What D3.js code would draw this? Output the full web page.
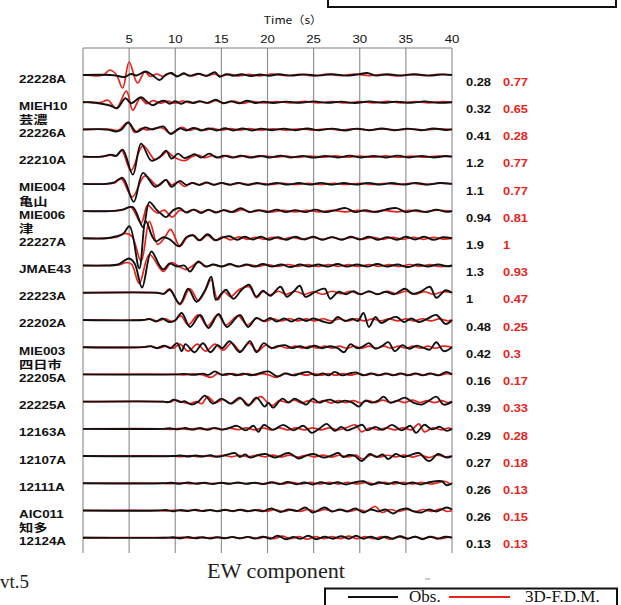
<!DOCTYPE html>
<html lang="ja">
<head>
<meta charset="UTF-8">
<title>EW component</title>
<script src="https://cdn.jsdelivr.net/npm/d3@7"></script>
<style>
  body { margin: 0; background: #fff; }
  svg { display: block; }
  .lab { font-family: "Liberation Sans", Arial, sans-serif; font-weight: bold; font-size: 11.5px; }
  .ja { font-family: "Noto Sans CJK JP", sans-serif; font-weight: bold; font-size: 11px; }
  .serif { font-family: "Liberation Serif", "Times New Roman", serif; }
</style>
</head>
<body>
<script>
// stations, top to bottom
var stations = ["22228A","MIEH10","22226A","22210A","MIE004","MIE006","22227A","JMAE43","22223A",
                "22202A","MIE003","22205A","22225A","12163A","12107A","12111A","AIC011","12124A"];
var stationsJa = ["","芸濃","","","亀山","津","","","","","四日市","","","","","","知多",""];
// max amplitudes written at the right
var obsMax = [0.28,0.32,0.41,1.2,1.1,0.94,1.9,1.3,1,0.48,0.42,0.16,0.39,0.29,0.27,0.26,0.26,0.13];
var fdmMax = [0.77,0.65,0.28,0.77,0.77,0.81,1,0.93,0.47,0.25,0.3,0.17,0.33,0.28,0.18,0.13,0.15,0.13];
var timeTicks = [5,10,15,20,25,30,35,40];

// waveforms, [time s, relative amplitude]
var obsWaves = [
  [[0,0],[3.0,0],[3.8,-1],[4.5,-2],[5.2,1],[5.8,-0.5],[6.8,3.5],[7.5,0],[8.3,-5],[9.0,0.5],[9.6,2],[10.2,-1.5],[10.9,1.7],[11.5,-0.8],[12.5,1.3],[13.4,-0.8],[14.3,2.7],[14.8,-1.7],[15.5,0.8],[16.3,-0.8],[17.2,0.8],[18.2,-1],[19.2,0.5],[20.2,-0.8],[21.2,0.8],[22.5,-0.6],[24,0.6],[25.5,-0.6],[27,0.8],[28.5,-0.6],[29.8,0.6],[30.8,2],[31.8,-0.6],[33,0.8],[34.5,-0.6],[36,0.8],[37.5,-0.6],[39,0.6],[40,0]],
  [[0,0],[0.8,0],[2.0,-1.5],[3.0,-3.5],[3.7,-6],[4.6,4],[5.2,-1],[6.3,5],[7.0,0],[7.6,-3],[8.2,0],[8.8,1.5],[9.4,-1.5],[10.0,1],[10.6,-1.5],[11.3,0.8],[12.0,-0.8],[12.7,0.8],[13.5,-0.6],[14.4,2.5],[15.2,-1],[16.0,0.8],[17.0,-1],[17.8,1.5],[18.7,-0.8],[19.6,0.6],[20.6,-0.8],[22,0.6],[23.5,-0.6],[25,0.8],[26.5,-0.6],[28,0.6],[29.5,-0.8],[31,0.8],[32.5,-0.6],[34,0.6],[35.5,-0.6],[37,0.8],[38.5,-0.6],[40,0]],
  [[0,0],[2.6,0],[3.6,-2],[4.2,0],[4.9,7],[5.8,-2.5],[6.7,2],[7.5,0],[8.7,3],[9.5,-4.5],[10.5,1],[11.2,-1],[12.0,1.5],[12.8,-1],[13.6,1],[14.5,-1],[15.4,1.2],[16.3,-1],[17.3,1],[18.3,-1],[19.3,0.8],[20.5,-0.8],[21.8,0.8],[23,-0.8],[24.3,1],[25.6,-0.8],[27,0.8],[28.4,-1],[29.7,0.8],[31,-0.8],[32.4,1],[33.8,-0.8],[35.2,0.8],[36.6,-0.8],[38,1],[39.3,-0.6],[40,0]],
  [[0,0],[2.0,0],[3.0,2],[3.6,1],[4.3,7],[5.4,-18],[6.3,13],[7.4,-4],[8.3,-0.5],[9.0,6],[9.6,-2],[10.3,3],[11.0,-1.5],[11.6,0.5],[12.1,2.5],[12.8,-1],[13.7,3],[14.5,-1],[15.3,1],[16.2,-1],[17.1,1],[18.1,-1],[19.1,0.8],[20.2,-0.8],[21.4,1],[22.6,-0.8],[23.8,0.8],[25,-1],[26.3,0.8],[27.6,-0.8],[28.9,1],[30.2,-0.8],[31.5,0.8],[32.8,-0.8],[34.1,1],[35.4,-0.8],[36.7,0.8],[38,-0.8],[39.3,0.6],[40,0]],
  [[0,0],[2.5,0],[3.4,1.5],[4.3,6],[5.5,-18],[6.5,11],[7.8,-3],[8.4,0],[9.0,4],[9.6,-3],[10.5,3],[11.2,-1],[11.9,1],[12.6,-1],[13.4,1.5],[14.2,-1],[15.0,1],[15.9,-0.8],[16.8,1],[17.8,-1],[18.8,0.8],[19.9,-0.8],[21,1],[22.2,-0.8],[23.4,0.8],[24.6,-0.8],[25.8,1],[27,-0.8],[28.3,0.8],[29.6,-0.8],[30.9,1],[32.2,-0.8],[33.5,0.8],[34.8,-0.8],[36.1,1],[37.4,-0.8],[38.7,0.8],[40,0]],
  [[0,0],[3,0],[4.3,1.5],[5.4,4],[6.5,-16],[7.2,9],[8.0,1],[8.5,-3],[9.0,-6],[9.8,1],[10.5,3],[11.2,-1.5],[12.0,1.5],[12.8,-2],[13.6,1.5],[14.4,-1.5],[15.2,1],[16.1,-1],[17.1,3],[18.0,-1],[19,1],[20,-1],[21,1.5],[22,-1],[23,1],[24.1,-1],[25.2,1.5],[26.3,-1],[27.4,1],[28.5,3],[29.5,-1],[30.6,1],[31.7,-1],[32.8,1.5],[34,3],[35,-1],[36.1,1],[37.2,-1],[38.3,1.5],[39.4,-0.8],[40,0]],
  [[0,0],[2.5,0],[3.6,2],[4.3,4],[5.05,12],[6.1,-30],[6.8,17],[7.5,2],[7.9,-3],[8.7,1],[9.4,-1],[10.4,-8],[11.2,1],[11.9,3],[12.6,-2],[13.5,4],[14.4,-2],[15.2,1],[15.9,2],[16.7,-1.5],[17.5,1.5],[18.4,-1.2],[19.3,1.5],[20.2,-1.5],[21.1,1.2],[22,-1.5],[23,1.5],[24,-1.2],[25,1.5],[26,-1.5],[27,1.2],[28,-1.5],[29,1.5],[30,-1.2],[31,1.5],[32,-1.5],[33,1.2],[34,-1.5],[35,1.5],[36,-1.2],[37,1.5],[38,-1.5],[39,1],[40,0]],
  [[0,0],[2.5,0],[3.8,1],[5.0,7],[5.6,2],[6.4,-22],[7.4,14],[8.3,0],[8.7,-4],[9.4,2],[10.2,-1],[11.0,0],[11.6,-6],[12.5,4],[13.3,-1],[14.1,1],[15,-1],[15.9,1.5],[16.8,-1],[17.7,1],[18.6,-1],[19.5,1.5],[20.5,-1],[21.5,1],[22.5,-1.5],[23.5,1],[24.5,-1],[25.5,1],[26.5,-1],[27.6,1.5],[28.6,-1],[29.7,1],[30.8,-1],[31.9,1.5],[33,-1],[34.1,1],[35.2,-1.5],[36.3,1],[37.4,-1],[38.5,1],[39.5,-0.8],[40,0]],
  [[0,0],[8.0,0],[8.8,-1],[9.4,3],[10.5,-11],[11.4,4],[12.3,-9],[13.2,2],[13.9,16],[14.4,-7],[15.0,-1],[15.5,3],[16.3,-6],[17.2,3],[18.0,8],[18.8,-4],[19.5,2],[20.3,-3],[21.4,6],[22.1,-4],[22.8,1],[23.5,7],[24.1,-4],[25.2,1],[26.2,4],[26.8,-6],[27.7,1],[28.5,-1.5],[29.3,1.5],[30.1,-1.5],[31,1.5],[31.9,-1.5],[32.8,1],[33.7,-1.5],[34.9,4],[35.7,-1],[36.6,1],[37.6,6],[38.3,-5],[39.3,2.5],[40,0]],
  [[0,0],[6.5,0],[7.2,1],[7.9,-1.5],[8.6,1.5],[9.3,-2],[10.0,-0.5],[10.7,7],[11.6,-7],[12.7,5],[13.6,-8],[14.7,6],[15.6,-7],[17.0,5],[17.9,-7],[18.8,2],[19.6,-1],[20.3,2],[21.0,-1.5],[21.8,1.5],[22.6,-1.5],[23.4,1.5],[24.2,-1],[25.0,1.5],[26.0,-1.5],[26.9,-3],[27.6,3],[28.4,-1],[29.2,1],[29.8,-1],[30.4,7],[31.0,-7],[31.7,3],[32.3,-3],[33.2,1],[34.0,3],[34.8,-2],[35.6,1.5],[36.4,-2],[37.3,1],[38.3,5],[39.3,-4],[40,0]],
  [[0,0],[6.5,0],[7.3,1],[8.0,-1],[8.8,1.5],[9.5,-1],[10.2,4],[10.7,-4],[11.1,3],[12.1,-5],[13.0,4],[13.8,-5],[14.6,2],[15.1,-1],[15.9,6],[17.0,-5],[18.1,6],[18.8,-5],[19.6,4],[20.4,-1],[21.1,1],[21.9,2],[22.7,-1],[23.5,1],[24.3,-1],[25.1,1.5],[25.9,-1],[26.8,1],[27.6,-1],[28.3,-5],[29.0,3],[29.7,-1],[30.4,1],[31.0,4],[31.7,-1.5],[32.4,1],[33.1,5],[33.8,-4],[34.6,2],[35.4,-1.5],[36.2,1.5],[37.0,-1],[37.6,-2.5],[38.3,5],[39.1,-4],[40,0]],
  [[0,0],[10,0],[11,0.5],[12,-0.5],[13,0.8],[13.6,-0.5],[14.3,3],[15,-0.5],[15.8,0.8],[16.6,-0.8],[17.4,0.8],[18.2,-0.8],[19.1,1],[20.1,3],[21.1,-2],[22,1],[22.8,-1],[23.6,1],[24.4,2.5],[25.2,-1],[26,1],[26.6,-1],[27.3,2.5],[28.1,-1],[28.9,1],[29.6,2],[30.4,-1],[31.2,1],[32,-1],[32.8,1],[33.6,-1],[34.4,1],[35.2,-1],[36,1],[36.8,-1],[37.6,1],[38.5,-1],[39.4,2.5],[40,0]],
  [[0,0],[8.7,0],[9.3,-0.5],[9.8,2],[10.6,-0.5],[11.0,0.5],[11.8,-3],[12.5,0],[13.2,6],[14.1,-2],[15.0,3],[16.0,-2],[17.0,4],[17.9,-4],[18.8,4],[19.7,-5],[20.1,-1],[20.6,-6],[21.6,3],[22.3,-1],[22.9,3],[23.6,0],[24.2,-3],[24.9,3],[25.6,-1],[26.2,1],[26.8,2],[27.6,-1],[28.4,1],[29.2,-1],[29.9,-5],[30.6,1],[31.3,-1],[32.0,1],[32.6,5],[33.3,-1],[34.1,1],[34.9,4],[35.8,-1],[36.7,-3],[37.5,1],[38.3,5],[39.1,-3],[40,0]],
  [[0,0],[8.7,0],[9.5,0.5],[10.3,-0.5],[11.1,0.8],[11.9,-0.8],[12.7,0.8],[13.5,-1],[14.3,1],[15.1,-0.8],[15.9,1],[16.7,3],[17.6,-1.5],[18.5,3],[19.0,-3],[19.6,4],[20.6,-1],[21.7,4],[22.8,-1.5],[23.9,3],[24.8,-4],[25.6,0],[26.4,5],[27.3,-2],[28,2],[28.6,-1.5],[29.4,1],[30.3,4],[30.8,-1.5],[31.7,2],[32.5,-1],[33.5,4],[34.5,-1.5],[35.5,3],[36.1,-4],[37.0,4],[37.8,-0.5],[38.7,2],[39.4,-2],[40,0]],
  [[0,0],[9.8,0],[10.6,0.5],[11.4,-0.5],[12.2,0.5],[13,-0.5],[13.8,0.8],[14.6,-0.8],[15.5,1],[16.5,3],[17,-1],[17.6,1.5],[18.1,-1.5],[19.0,1],[19.8,2],[20.8,-1.5],[22.3,3],[23.4,-2.5],[24.2,0.5],[25.0,2],[26.1,-1.5],[26.9,0.5],[27.7,3],[28.2,-1],[28.8,1],[29.5,0],[30.2,-5],[31.1,2],[31.8,-1],[32.5,1.5],[33.1,-3],[33.9,2],[34.7,-1],[35.5,1],[36.4,3],[37.5,-5],[38.5,2],[39.4,-1.5],[40,0]],
  [[0,0],[8.7,0],[9.6,0.5],[10.5,-0.5],[11.4,0.8],[12.3,-0.5],[13.2,0.5],[14.1,-0.8],[15,0.5],[15.9,-0.5],[16.8,0.8],[17.7,-0.5],[18.6,0.5],[19.5,-0.8],[20.4,1],[21.3,-0.8],[22.2,1.2],[23.1,-1],[24,0.8],[24.9,-1.2],[25.8,1],[26.7,-0.8],[27.6,1],[28.5,-1.2],[29.4,0.8],[30.4,2],[31.2,-1.5],[32.1,1],[33,-0.8],[33.9,1.2],[34.8,-1],[35.7,0.8],[36.6,-1.2],[37.5,1],[38.9,2],[39.4,-2],[40,0]],
  [[0,0],[8.2,0],[9.0,0.5],[9.8,-0.8],[10.6,0.5],[11.4,-0.5],[12.2,0.8],[13,-0.5],[13.8,0.5],[14.6,-0.8],[15.4,0.8],[16.2,-0.5],[17,0.8],[17.8,-0.8],[18.6,0.5],[19.5,-0.8],[20.4,2],[21.4,-1.5],[22.3,1],[23.2,-0.5],[24.1,3],[24.9,-2],[26.2,3],[27,-1],[27.8,1],[28.6,-1],[29.5,2],[30.4,-2],[31.2,1],[32,-1],[32.8,1],[33.6,-3],[34.3,0.5],[35.1,2],[35.9,-1],[36.7,-2],[37.5,1],[38.3,-1],[39.4,3],[40,1]],
  [[0,0],[9,0],[9.8,0.5],[10.6,-0.5],[11.4,0.8],[12.2,-0.5],[13,0.5],[13.8,-0.8],[14.6,0.5],[15.4,-0.5],[16.2,0.8],[17,-0.5],[17.8,0.8],[18.6,-0.8],[19.5,1],[20.3,-1],[21.1,2],[22,-1.5],[22.8,0.8],[23.6,-1],[24.4,2],[25.3,-1.5],[26.2,1],[27.1,-1],[28,1.5],[28.8,-1],[29.6,2],[30.4,-1],[31.2,1],[32,-1.5],[32.8,1],[33.6,-1],[34.4,1.5],[35.2,-1],[36,1],[36.8,-1.5],[37.6,1],[38.4,-1],[39.3,1],[40,0]]
];

var fdmWaves = [
  [[0,0],[2.2,0],[2.9,5],[3.6,0.5],[4.3,-13],[5.0,13],[5.9,-8],[6.7,3],[7.3,-1.5],[8.0,1],[8.7,-1.5],[9.4,1.5],[10.2,-1],[11.0,1],[11.8,-1],[12.6,1.2],[13.4,-1],[14.2,1],[15.0,-1.2],[15.8,0.8],[16.8,-0.8],[18,0.6],[19.2,-0.8],[20.5,0.8],[22,-0.6],[23.5,0.6],[25,-0.8],[26.5,0.8],[28,-0.6],[29.5,0.8],[31,-0.6],[32.5,0.6],[34,-0.8],[35.5,0.6],[37,-0.6],[38.5,0.6],[40,0]],
  [[0,0],[2.0,0],[2.7,2],[3.6,-6],[4.7,11],[5.4,-8],[6.2,4],[6.9,-1.5],[7.6,1.5],[8.4,-1],[9.2,1],[10,-1],[10.8,1.2],[11.7,-0.8],[12.6,1],[13.5,-1],[14.4,1.5],[15.3,-0.8],[16.3,1],[17.3,-1.2],[18.3,0.8],[19.5,-0.8],[21,0.6],[22.5,-0.6],[24,0.8],[25.5,-0.6],[27,0.6],[28.5,-0.8],[30,0.6],[31.5,-0.6],[33,0.8],[34.5,-0.6],[36,0.6],[37.5,-0.6],[39,0.6],[40,0]],
  [[0,0],[3.0,0],[3.8,-1],[4.9,7],[5.6,-3],[6.3,1],[7.0,-0.5],[7.8,1],[8.6,1.5],[9.5,-4],[10.3,0.5],[10.8,2],[11.5,-1],[12.3,1],[13.1,-1],[14,1],[15,-0.8],[16,0.8],[17,-0.8],[18,0.8],[19.3,-0.6],[20.6,0.6],[22,-0.6],[23.5,0.6],[25,-0.6],[26.5,0.6],[28,-0.6],[29.5,0.6],[31,-0.6],[32.5,0.6],[34,-0.6],[35.5,0.6],[37,-0.6],[38.5,0.6],[40,0]],
  [[0,0],[2.0,0],[3.0,1.5],[3.6,0.5],[4.2,6],[5.2,-14],[6.5,11],[7.8,-3],[8.5,0.5],[9.1,5],[9.8,0],[11.0,-4],[11.8,0],[12.5,1.5],[13.2,-1],[14,1],[14.8,-1],[15.6,1],[16.5,-0.8],[17.5,0.8],[18.5,-0.8],[19.6,0.8],[20.8,-0.6],[22,0.6],[23.3,-0.8],[24.6,0.6],[26,-0.6],[27.3,0.8],[28.6,-0.6],[30,0.6],[31.4,-0.6],[32.8,0.8],[34.2,-0.6],[35.6,0.6],[37,-0.6],[38.4,0.6],[40,0]],
  [[0,0],[2.5,0],[3.4,1],[4.15,5],[5.35,-13],[6.7,8],[8.1,-2],[9.0,4],[9.6,-1],[10.3,2],[11.0,-2.5],[11.8,1],[12.6,-1],[13.4,1],[14.2,-0.8],[15,0.8],[16,-0.8],[17,0.8],[18,-0.8],[19.2,0.6],[20.4,-0.6],[21.6,0.6],[23,-0.6],[24.4,0.6],[25.8,-0.6],[27.2,0.6],[28.6,-0.6],[30,0.6],[31.4,-0.6],[32.8,0.6],[34.2,-0.6],[35.6,0.6],[37,-0.6],[38.4,0.6],[40,0]],
  [[0,0],[3,0],[4.2,1],[5.2,4],[6.3,-12],[7.0,6],[7.6,1],[8.1,-2],[8.8,1],[9.7,-6],[10.5,1],[11.2,-1],[12,1.5],[12.8,-1],[13.6,1],[14.5,-1],[15.4,1],[16.3,-1],[17.2,1.5],[18.2,-0.8],[19.3,0.8],[20.5,-0.8],[21.7,0.8],[23,-0.8],[24.3,0.8],[25.6,-0.8],[27,0.8],[28.4,-0.8],[29.8,0.8],[31.2,-0.8],[32.6,0.8],[34,-0.8],[35.4,0.8],[36.8,-0.8],[38.2,0.8],[40,0]],
  [[0,0],[2.5,0],[3.6,1],[4.5,5],[5.3,2],[6.3,-23],[7.2,17],[8.1,-6],[8.8,0],[9.5,9],[10.5,-8],[11.3,1],[12.0,3],[12.7,-2],[13.5,3],[14.3,-2],[15.1,1.5],[16.0,-1.5],[16.9,1.5],[17.8,-1],[18.7,1],[19.6,-1],[20.6,1],[21.6,-1],[22.6,1],[23.7,-1],[24.8,1],[25.9,-1],[27,1],[28.1,-1],[29.2,1],[30.3,-1],[31.4,1],[32.5,-1],[33.6,1],[34.7,-1],[35.8,1],[36.9,-1],[38,1],[39.1,-0.8],[40,0]],
  [[0,0],[2.5,0],[3.8,0.5],[4.8,3],[5.3,1],[6.1,-18],[7.2,11],[8.7,-6],[9.6,3],[10.4,-1],[11.2,-4],[12.0,0.5],[12.6,3],[13.4,-1],[14.2,1],[15.1,-1],[16,1],[17,-1],[18,1],[19,-1],[20,1],[21.1,-1],[22.2,1],[23.3,-0.8],[24.4,0.8],[25.5,-1],[26.6,1],[27.7,-0.8],[28.8,0.8],[29.9,-1],[31,1],[32.1,-0.8],[33.2,0.8],[34.3,-1],[35.4,1],[36.5,-0.8],[37.6,0.8],[38.7,-1],[40,0]],
  [[0,0],[8.0,0],[8.7,-1],[9.4,4],[10.5,-12],[11.6,4],[12.5,-8],[13.2,1],[13.9,13],[14.6,-7],[15.3,1],[16.0,-4],[16.9,3],[18.0,6],[18.8,-5],[19.5,1],[20.3,-2],[21.2,1.5],[22.0,-1.5],[23,1.5],[24,-1.5],[25,1],[26,-1.5],[27,1.5],[28,-1],[29,1.5],[30,-1.5],[31,1],[32,-1.5],[33,1.5],[34,-1],[35,1.5],[36,-1.5],[37,1],[38,-1.5],[39,1],[40,0]],
  [[0,0],[6.5,0],[7.3,0.8],[8.1,-1],[8.9,1],[9.7,-1.5],[10.6,4],[11.4,-5],[12.5,5],[13.5,-6],[14.6,5],[15.5,-5],[16.8,4],[17.8,-5],[18.8,1.5],[19.7,-1.5],[20.6,1],[21.5,-1],[22.4,1.2],[23.3,-1],[24.2,1],[25.1,-1],[26,1.2],[26.9,-1],[27.8,1],[28.7,-1],[29.6,1.2],[30.5,-1],[31.4,1],[32.3,-1],[33.2,1.2],[34.1,-1],[35,1],[35.9,-1],[36.8,1.2],[37.7,-1],[38.6,1],[39.5,-0.8],[40,0]],
  [[0,0],[6.5,0],[7.4,0.8],[8.2,-1],[9.0,1],[9.8,-1],[10.5,3],[11.4,-4],[12.4,3],[13.3,-4],[14.3,3],[15.2,-3],[16.1,4],[17.1,-4],[18.0,4],[18.9,-4],[19.8,2],[20.6,-1],[21.4,1],[22.2,-1],[23,1],[23.8,-1],[24.6,1],[25.4,-1],[26.2,1],[27,-1],[27.8,1],[28.6,-1],[29.4,1],[30.2,-1],[31,1],[31.8,-1],[32.6,1],[33.4,-1],[34.2,1],[35,-1],[35.8,1],[36.6,-1],[37.4,1],[38.2,-1],[39,1],[40,0]],
  [[0,0],[10,0],[11,-0.5],[12,0.5],[13,-0.5],[13.9,-3],[14.6,1],[15.4,-0.8],[16.2,0.8],[17,-0.8],[17.8,0.8],[18.6,-0.8],[19.4,0.8],[20.2,-0.8],[21,-3],[21.8,1],[22.6,-0.8],[23.4,0.8],[24.2,-0.8],[25,0.8],[25.8,-0.8],[26.6,0.8],[27.4,-0.8],[28.2,0.8],[29,-0.8],[29.8,0.8],[30.6,-0.8],[31.4,0.8],[32.2,-0.8],[33,0.8],[33.8,-0.8],[34.6,0.8],[35.4,-0.8],[36.2,0.8],[37,-0.8],[37.8,0.8],[38.6,-0.8],[39.4,0.8],[40,0]],
  [[0,0],[8.7,0],[9.4,-0.5],[10,1.5],[10.8,-0.5],[11.6,-2],[12.3,0],[12.9,-2],[13.5,5],[14.3,-1],[15.2,2],[16.1,-2],[17.1,3],[18,-3],[18.8,3],[19.3,5],[20.0,-1],[20.5,-4],[21.3,1],[22.1,-1],[22.9,1.5],[23.7,-1.5],[24.5,1],[25.3,-1],[26.1,1],[26.9,-1.5],[27.7,1],[28.5,-1],[29.3,1],[30.1,-1.5],[30.9,1],[31.7,-1],[32.5,1.5],[33.3,-1],[34.1,1],[34.9,-1],[35.7,1.5],[36.5,-1],[37.3,1],[38.1,-1],[38.9,1],[39.6,-1],[40,0]],
  [[0,0],[8.7,0],[9.6,-0.5],[10.5,0.5],[11.4,-0.5],[12.3,0.5],[13.2,-0.5],[14.1,0.8],[15,-0.8],[15.9,0.8],[16.8,-0.8],[17.7,1],[18.6,-1],[19.5,1],[20.4,-1],[21.3,1],[22.2,-1],[23.1,1],[24,-1],[24.9,1],[25.8,-1],[26.7,1],[27.6,-1],[28.5,1],[29.5,4],[30.2,-3],[31.1,1],[32,-1],[32.9,1],[33.8,-1],[34.7,1],[35.6,-1],[36.4,5],[37.0,-3],[37.9,1],[38.8,-1],[39.6,0.8],[40,0]],
  [[0,0],[9.8,0],[10.7,-0.5],[11.6,0.5],[12.5,-0.5],[13.4,0.5],[14.3,-0.5],[15.2,0.8],[16.1,-0.8],[17,0.8],[17.9,-0.8],[18.8,0.8],[19.7,-0.8],[20.6,1],[21.5,-1],[22.4,1],[23.3,-1],[24.2,0.8],[25.1,-0.8],[26,1],[26.9,-1],[27.8,0.8],[28.7,-0.8],[29.6,1],[30.3,-3],[31.2,1],[32.1,-1],[33,0.8],[33.9,-0.8],[34.8,1],[35.7,-1],[36.6,0.8],[37.5,-1.5],[38.4,1],[39.3,-0.8],[40,0]],
  [[0,0],[8.7,0],[9.7,-0.5],[10.7,0.5],[11.7,-0.5],[12.7,0.5],[13.7,-0.5],[14.7,0.5],[15.7,-0.5],[16.7,0.5],[17.7,-0.5],[18.7,0.5],[19.7,-0.8],[20.7,0.8],[21.7,-0.8],[22.7,0.8],[23.7,-0.8],[24.7,0.8],[25.7,-0.8],[26.7,0.8],[27.7,-0.8],[28.7,0.8],[29.7,-0.8],[30.7,0.8],[31.7,-0.8],[32.7,0.8],[33.7,-0.8],[34.7,0.8],[35.7,-0.8],[36.7,0.8],[37.7,-0.8],[38.5,0.5],[39.2,2],[39.8,-0.5],[40,0]],
  [[0,0],[8.2,0],[9.1,-0.5],[10,0.5],[10.9,-0.5],[11.8,0.5],[12.7,-0.5],[13.6,0.5],[14.5,-0.5],[15.4,0.5],[16.3,-0.8],[17.2,0.8],[18.1,-0.8],[19,0.8],[19.9,-0.8],[20.8,1],[21.7,-1],[22.6,0.8],[23.5,-0.8],[24.4,1],[25.3,-1],[26.2,1],[27.1,-0.8],[28,0.8],[28.9,-1],[29.8,1],[30.7,-0.8],[31.7,4],[32.4,-2],[33.3,1],[34.2,-1],[35.1,1],[36,-1],[36.9,1],[37.8,-1],[38.7,1.5],[39.5,-1],[40,0]],
  [[0,0],[9,0],[9.9,-0.5],[10.8,0.5],[11.7,-0.5],[12.6,0.5],[13.5,-0.5],[14.4,0.5],[15.3,-0.5],[16.2,0.5],[17.1,-0.8],[18,0.8],[18.9,-0.8],[19.8,0.8],[20.7,-1],[21.6,1.5],[22.5,-1],[23.4,1],[24.3,-1.5],[25.2,1],[26.1,-1],[27,1],[27.9,-1],[28.8,1.5],[29.7,-1],[30.6,1],[31.5,-1],[32.4,1],[33.3,-1.5],[34.2,1],[35.1,-1],[36,1],[36.9,-1],[37.8,1],[38.7,-1],[39.6,0.5],[40,0]]
];

var W = 621, H = 605;

var svg = d3.select("body").append("svg")
  .attr("width", W)
  .attr("height", H);

svg.append("rect").attr("width", W).attr("height", H).attr("fill", "#fff");

// scales
var x = d3.scaleLinear().domain([0, 40]).range([83, 452]);
var row = d3.scaleLinear().domain([0, stations.length - 1]).range([75, 537.7]);
var amp = d3.scaleLinear().domain([-30, 30]).range([30, -30]);

// frame: top line and vertical grid
svg.append("line")
  .attr("x1", x(0)).attr("x2", x(40))
  .attr("y1", 48).attr("y2", 48)
  .attr("stroke", "#808080").attr("stroke-width", 1.2);

svg.selectAll("line.grid")
  .data([0].concat(timeTicks))
  .enter().append("line")
  .attr("class", "grid")
  .attr("x1", function(d) { return x(d); })
  .attr("x2", function(d) { return x(d); })
  .attr("y1", 48).attr("y2", 553)
  .attr("stroke", "#8a8a8a").attr("stroke-width", 1.1);

// tick labels
svg.selectAll("text.tick")
  .data(timeTicks)
  .enter().append("text")
  .attr("class", "lab")
  .attr("text-anchor", "middle")
  .attr("transform", function(d) { return "translate(" + x(d) + ",43) scale(1.2,1)"; })
  .style("font-weight", "normal")
  .style("font-size", "11px")
  .attr("fill", "#111")
  .text(function(d) { return d; });

svg.append("text")
  .attr("class", "ja")
  .attr("text-anchor", "middle")
  .attr("transform", "translate(293,24) scale(1.1,1)")
  .style("font-weight", "normal")
  .style("font-size", "11px")
  .attr("fill", "#111")
  .text("Time（s）");

// waveforms: red under black
function traceLine(i) {
  return d3.line()
    .x(function(d) { return x(d[0]); })
    .y(function(d) { return row(i) + amp(d[1]); })
    .curve(d3.curveCatmullRom.alpha(0.5));
}

fdmWaves.forEach(function(w, i) {
  svg.append("path")
    .attr("d", traceLine(i)(w))
    .attr("fill", "none")
    .attr("stroke", "#e8231c")
    .attr("stroke-width", 1.7);
});
obsWaves.forEach(function(w, i) {
  svg.append("path")
    .attr("d", traceLine(i)(w))
    .attr("fill", "none")
    .attr("stroke", "#111")
    .attr("stroke-width", 1.9);
});

// station labels
stations.forEach(function(s, i) {
  svg.append("text")
    .attr("class", "lab")
    .attr("transform", "translate(19," + (row(i) + 7.5) + ") scale(1.17,1)")
    .attr("fill", "#111")
    .text(s);
  if (stationsJa[i]) {
    svg.append("text")
      .attr("class", "ja")
      .attr("transform", "translate(19," + (row(i) + 22) + ") scale(1.3,1)")
      .attr("fill", "#111")
      .text(stationsJa[i]);
  }
});

// peak values
svg.selectAll("text.obs")
  .data(obsMax)
  .enter().append("text")
  .attr("class", "lab")
  .attr("transform", function(d, i) { return "translate(466," + (row(i) + 10.7) + ") scale(1.12,1)"; })
  .attr("fill", "#111")
  .text(function(d) { return d; });

svg.selectAll("text.fdm")
  .data(fdmMax)
  .enter().append("text")
  .attr("class", "lab")
  .attr("transform", function(d, i) { return "translate(503," + (row(i) + 10.7) + ") scale(1.12,1)"; })
  .attr("fill", "#e8231c")
  .text(function(d) { return d; });

// captions
svg.append("text")
  .attr("class", "serif")
  .attr("x", 207).attr("y", 578)
  .attr("textLength", 138)
  .attr("lengthAdjust", "spacingAndGlyphs")
  .style("font-size", "21px")
  .attr("fill", "#222")
  .text("EW component");

svg.append("text")
  .attr("class", "serif")
  .attr("x", 29).attr("y", 588)
  .attr("text-anchor", "end")
  .style("font-size", "19px")
  .attr("fill", "#222")
  .text("Evt.5");

svg.append("line")
  .attr("x1", 425).attr("x2", 430)
  .attr("y1", 579).attr("y2", 579)
  .attr("stroke", "#999").attr("stroke-width", 1);

// legend boxes (the top one is cut by the page edge)
svg.append("rect")
  .attr("x", 328).attr("y", -25)
  .attr("width", 288).attr("height", 32)
  .attr("fill", "none").attr("stroke", "#111").attr("stroke-width", 2);
svg.append("text").attr("class", "serif").attr("x", 413).attr("y", 0)
  .style("font-size", "17px").attr("fill", "#111").text("Obs.");
svg.append("text").attr("class", "serif").attr("x", 527).attr("y", 0)
  .style("font-size", "17px").attr("fill", "#111").text("3D-F.D.M.");

svg.append("rect")
  .attr("x", 325).attr("y", 588.5)
  .attr("width", 292).attr("height", 30)
  .attr("fill", "#fff").attr("stroke", "#111").attr("stroke-width", 2);
svg.append("line")
  .attr("x1", 348).attr("x2", 398).attr("y1", 597).attr("y2", 597)
  .attr("stroke", "#111").attr("stroke-width", 2);
svg.append("line")
  .attr("x1", 449).attr("x2", 510).attr("y1", 597).attr("y2", 597)
  .attr("stroke", "#e8231c").attr("stroke-width", 2);
svg.append("text").attr("class", "serif").attr("x", 409).attr("y", 601.5)
  .style("font-size", "17px").attr("fill", "#111").text("Obs.");
svg.append("text").attr("class", "serif").attr("x", 525).attr("y", 601.5)
  .style("font-size", "17px").attr("fill", "#111").text("3D-F.D.M.");
</script>
</body>
</html>
